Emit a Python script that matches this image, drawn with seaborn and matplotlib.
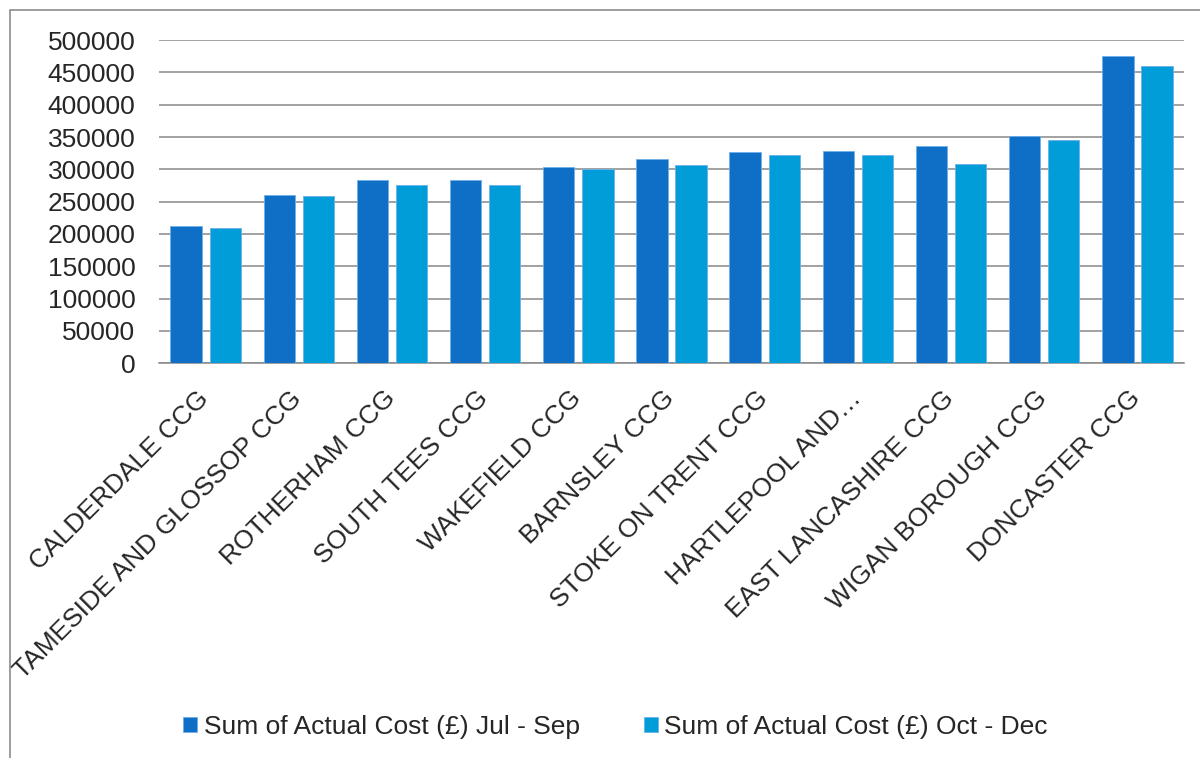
import pandas as pd
import seaborn as sns
import matplotlib.pyplot as plt
from matplotlib.patches import Rectangle
from matplotlib.transforms import ScaledTranslation

# values
ccgs = ['CALDERDALE CCG', 'TAMESIDE AND GLOSSOP CCG', 'ROTHERHAM CCG',
        'SOUTH TEES CCG', 'WAKEFIELD CCG', 'BARNSLEY CCG',
        'STOKE ON TRENT CCG', 'HARTLEPOOL AND\u2026', 'EAST LANCASHIRE CCG',
        'WIGAN BOROUGH CCG', 'DONCASTER CCG']
jul_sep = [212000, 260800, 283500, 283500, 303100, 316000,
           326300, 328300, 336000, 351500, 475200]
oct_dec = [208800, 258300, 275300, 275700, 301000, 306200,
           322100, 321600, 307700, 345300, 459800]
series = ['Sum of Actual Cost (\u00a3) Jul - Sep', 'Sum of Actual Cost (\u00a3) Oct - Dec']
yticks = list(range(0, 500001, 50000))

df = pd.DataFrame({'CCG': ccgs, series[0]: jul_sep, series[1]: oct_dec})
df = df.melt(id_vars='CCG', var_name='Period', value_name='Cost')

sns.set_style('white')
plt.rcParams['font.family'] = ['Liberation Sans', 'DejaVu Sans']

fig = plt.figure(figsize=(12, 7.58), dpi=100)
ax = fig.add_axes([0.1325, 0.5207, 0.8542, 0.4265])

sns.barplot(data=df, x='CCG', y='Cost', hue='Period', ax=ax,
            palette=['#0F6FC6', '#009DD9'], saturation=1, width=0.84, gap=0.2,
            edgecolor='#6fb0ea', linewidth=0.6, errorbar=None, zorder=3)

ax.set_ylim(0, 500000)
ax.set_xlim(-0.5, len(ccgs) - 0.5)
ax.set_yticks(yticks)
ax.set_yticklabels([str(v) for v in yticks], fontsize=19)
ax.yaxis.grid(True, color='#878787', linewidth=1.1, zorder=0)
ax.set_axisbelow(True)
ax.tick_params(axis='y', length=0, pad=17)
ax.tick_params(axis='x', length=0, pad=0)
ax.set_xlabel('')
ax.set_ylabel('')
for s in ['top', 'right', 'left']:
    ax.spines[s].set_visible(False)
ax.spines['bottom'].set_color('#878787')
ax.spines['bottom'].set_linewidth(1.1)

ax.set_xticks(range(len(ccgs)))
ax.set_xticklabels(ccgs, rotation=45, ha='right', va='top',
                   rotation_mode='anchor', fontsize=19)
shift = ScaledTranslation(-9 / 100, -23 / 100, fig.dpi_scale_trans)
for lab in ax.get_xticklabels():
    lab.set_transform(lab.get_transform() + shift)

fs = 19
px = fs * 100 / 72  # font size in pixels
ax.legend(loc='center', bbox_to_anchor=(615.5 / 1200, 1 - 727 / 758),
          bbox_transform=fig.transFigure,
          ncol=2, frameon=False, handlelength=14 / px, handleheight=14 / px,
          handletextpad=6.5 / px, columnspacing=64 / px, borderpad=0,
          prop={'size': fs})

# outer chart frame
fig.patches.append(Rectangle((10 / 1200, -0.05), 1.1, 1 - 10 / 758 + 0.05,
                             transform=fig.transFigure, fill=False,
                             edgecolor='#8c8c8c', linewidth=1.2))

fig.savefig('out.png', dpi=100)
